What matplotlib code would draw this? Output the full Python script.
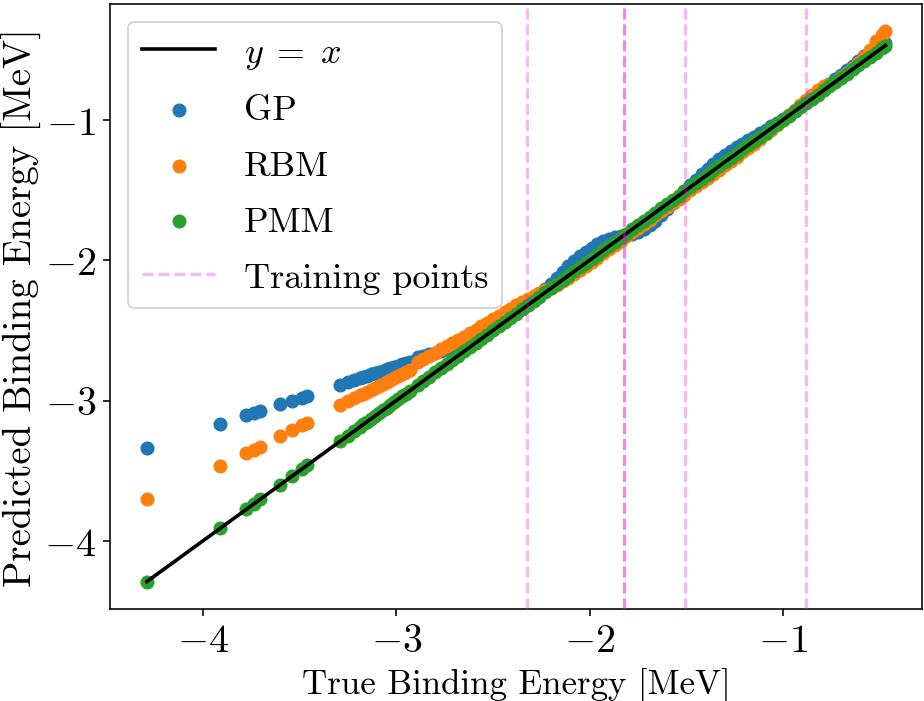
import matplotlib
matplotlib.use("Agg")
import matplotlib.pyplot as plt

plt.rcParams["font.family"] = "serif"
plt.rcParams["font.serif"] = ["cmr10"]
plt.rcParams["mathtext.fontset"] = "cm"
plt.rcParams["axes.formatter.use_mathtext"] = True
plt.rcParams["font.size"] = 18
plt.rcParams["xtick.labelsize"] = 20
plt.rcParams["ytick.labelsize"] = 20

# true binding energies of the test set [MeV]
true_E = [-4.29, -3.91, -3.775, -3.735, -3.705, -3.60, -3.54, -3.49, -3.46,
          -3.29, -3.25, -3.22, -3.19, -3.17, -3.15, -3.13, -3.11, -3.09,
          -3.07, -3.05, -3.03, -3.01, -2.99, -2.97, -2.95, -2.93,
          -2.89, -2.86, -2.83, -2.80, -2.77, -2.74, -2.71, -2.68, -2.65,
          -2.62, -2.59, -2.56, -2.53, -2.50, -2.47, -2.44, -2.41, -2.38,
          -2.35, -2.32, -2.29, -2.26, -2.23, -2.20, -2.17, -2.14, -2.11,
          -2.08, -2.05, -2.02, -1.99, -1.96, -1.93, -1.90, -1.87, -1.84,
          -1.81, -1.78, -1.75, -1.72, -1.69, -1.66, -1.63, -1.60, -1.57,
          -1.54, -1.51, -1.48, -1.45, -1.42, -1.39, -1.36, -1.33, -1.30,
          -1.27, -1.24, -1.21, -1.18, -1.15, -1.12, -1.09, -1.06, -1.03,
          -1.00, -0.97, -0.94, -0.91, -0.88, -0.85, -0.82, -0.79, -0.76,
          -0.73, -0.70, -0.67, -0.64, -0.61, -0.58, -0.55, -0.52, -0.49,
          -0.47]

gp_E = [-3.34, -3.17, -3.105, -3.09, -3.077, -3.027, -3.003, -2.98, -2.967,
        -2.886, -2.868, -2.855, -2.841, -2.832, -2.823, -2.814, -2.805, -2.796,
        -2.787, -2.778, -2.769, -2.760, -2.751, -2.742, -2.733, -2.724,
        -2.690, -2.680, -2.670, -2.660, -2.648, -2.635, -2.620, -2.602, -2.582,
        -2.562, -2.540, -2.518, -2.495, -2.472, -2.448, -2.424, -2.399, -2.374,
        -2.347, -2.320, -2.286, -2.248, -2.208, -2.166, -2.124, -2.083, -2.044,
        -2.007, -1.972, -1.940, -1.911, -1.886, -1.866, -1.850, -1.838, -1.828,
        -1.820, -1.810, -1.796, -1.776, -1.750, -1.718, -1.680, -1.638, -1.594,
        -1.549, -1.505, -1.465, -1.425, -1.387, -1.350, -1.315, -1.282, -1.251,
        -1.222, -1.195, -1.169, -1.144, -1.120, -1.096, -1.072, -1.047, -1.021,
        -0.994, -0.966, -0.937, -0.907, -0.876, -0.845, -0.813, -0.780, -0.746,
        -0.712, -0.679, -0.646, -0.613, -0.579, -0.545, -0.512, -0.485, -0.465,
        -0.455]

rbm_E = [-3.70, -3.464, -3.373, -3.35, -3.332, -3.256, -3.213, -3.177, -3.16,
         -3.034, -3.006, -2.985, -2.964, -2.950, -2.936, -2.922, -2.908, -2.894,
         -2.880, -2.866, -2.852, -2.838, -2.824, -2.810, -2.796, -2.782,
         -2.724, -2.702, -2.680, -2.658, -2.636, -2.614, -2.592, -2.569, -2.546,
         -2.522, -2.497, -2.472, -2.447, -2.422, -2.397, -2.372, -2.347, -2.322,
         -2.298, -2.275, -2.254, -2.234, -2.215, -2.195, -2.174, -2.150, -2.124,
         -2.097, -2.069, -2.040, -2.011, -1.981, -1.951, -1.921, -1.891, -1.861,
         -1.831, -1.801, -1.771, -1.741, -1.711, -1.681, -1.652, -1.622, -1.592,
         -1.562, -1.532, -1.503, -1.473, -1.443, -1.414, -1.384, -1.354, -1.324,
         -1.294, -1.263, -1.232, -1.201, -1.169, -1.137, -1.104, -1.070, -1.035,
         -1.000, -0.964, -0.928, -0.892, -0.856, -0.821, -0.787, -0.755, -0.750,
         -0.728, -0.697, -0.665, -0.630, -0.592, -0.550, -0.500, -0.435, -0.398,
         -0.370]

pmm_E = [-4.29, -3.91, -3.775, -3.735, -3.705, -3.60, -3.54, -3.49, -3.46,
         -3.29, -3.25, -3.22, -3.19, -3.17, -3.15, -3.13, -3.11, -3.09,
         -3.07, -3.05, -3.03, -3.01, -2.99, -2.97, -2.95, -2.93,
         -2.89, -2.86, -2.83, -2.80, -2.77, -2.74, -2.71, -2.68, -2.65,
         -2.62, -2.59, -2.56, -2.53, -2.50, -2.47, -2.44, -2.41, -2.38,
         -2.35, -2.32, -2.29, -2.26, -2.23, -2.20, -2.17, -2.14, -2.11,
         -2.08, -2.05, -2.02, -1.99, -1.96, -1.93, -1.90, -1.87, -1.84,
         -1.81, -1.78, -1.75, -1.72, -1.69, -1.66, -1.63, -1.60, -1.57,
         -1.54, -1.51, -1.48, -1.45, -1.42, -1.39, -1.36, -1.33, -1.30,
         -1.27, -1.24, -1.21, -1.18, -1.15, -1.12, -1.09, -1.06, -1.03,
         -1.00, -0.97, -0.94, -0.91, -0.88, -0.85, -0.82, -0.79, -0.76,
         -0.73, -0.70, -0.67, -0.64, -0.61, -0.58, -0.55, -0.52, -0.49,
         -0.47]

# energies used to train the emulators
train_E = [-2.325, -1.82, -1.82, -1.505, -0.88]

fig = plt.figure(figsize=(6.4, 4.861), dpi=144.4)
ax = fig.add_axes([0.119, 0.131, 0.879, 0.862])

ax.plot([min(true_E), max(true_E)], [min(true_E), max(true_E)],
        color="black", lw=1.8, zorder=3, label="$y\\;=\\;x$")
ax.scatter(true_E, gp_E, color="tab:blue", label="GP")
ax.scatter(true_E, rbm_E, color="tab:orange", label="RBM")
ax.scatter(true_E, pmm_E, color="tab:green", label="PMM")

for i, e in enumerate(train_E):
    ax.axvline(e, color="magenta", ls="--", alpha=0.3, zorder=4,
               label="Training points" if i == 0 else None)

ax.set_xlabel("True Binding Energy [MeV]", fontsize=17.4)
ax.set_ylabel("Predicted Binding Energy [MeV]", fontsize=19.4, labelpad=1)
ax.legend(loc="upper left", fontsize=18, labelspacing=0.65)

fig.savefig("out.png")
